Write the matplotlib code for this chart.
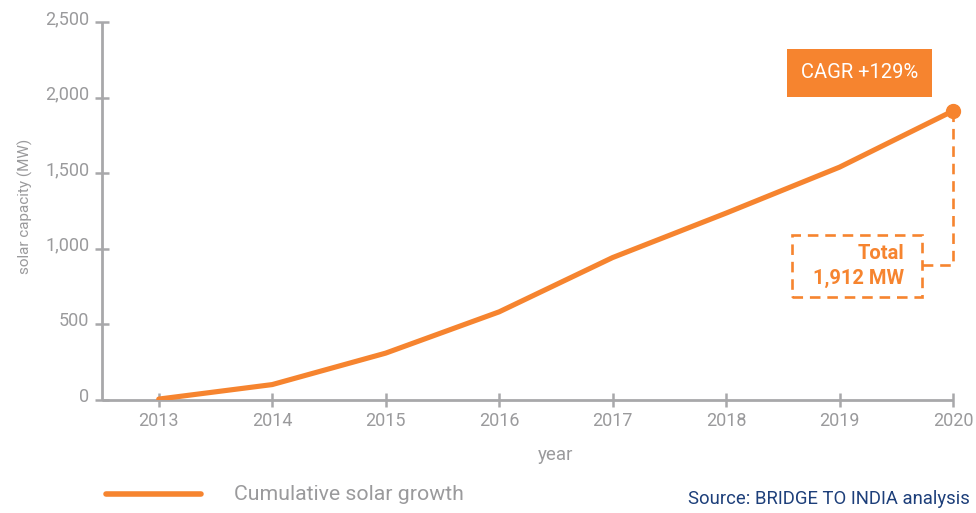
import matplotlib
matplotlib.use("Agg")
import matplotlib.pyplot as plt
import matplotlib.transforms as mtransforms
from matplotlib.patches import Rectangle

plt.rcParams['font.family'] = ['Roboto', 'DejaVu Sans']

years = [2013, 2014, 2015, 2016, 2017, 2018, 2019, 2020]
capacity_mw = [6, 102, 310, 583, 942, 1236, 1540, 1912]
y_ticks = [0, 500, 1000, 1500, 2000, 2500]
y_tick_labels = ['0', '500', '1,000', '1,500', '2,000', '2,500']
series_label = 'Cumulative solar growth'
cagr_label = 'CAGR +129%'
total_label = 'Total\n1,912 MW'
source_label = 'Source: BRIDGE TO INDIA analysis'

orange = '#f6842f'
grey = '#a8a8aa'
text_grey = '#9a9a9c'
navy = '#1d3f7a'

fig = plt.figure(figsize=(9.76, 5.13), dpi=100)
ax = fig.add_axes([102 / 976, 1 - 400 / 513, (953 - 102) / 976, (400 - 22) / 513])

ax.plot(years, capacity_mw, color=orange, lw=3.7, solid_capstyle='round', zorder=3)
ax.plot(years[-1], capacity_mw[-1], 'o', color=orange, ms=10, zorder=4, clip_on=False)

ax.set_xlim(2012.5, 2020)
ax.set_ylim(0, 2500)
ax.set_xticks(years)
ax.set_yticks(y_ticks)
ax.set_yticklabels(y_tick_labels)

for side in ('top', 'right'):
    ax.spines[side].set_visible(False)
for side in ('left', 'bottom'):
    ax.spines[side].set_color(grey)
    ax.spines[side].set_linewidth(2.0)
    ax.spines[side].set_capstyle('butt')
ax.tick_params(direction='inout', length=9.5, width=1.8, color=grey,
               labelcolor=text_grey, labelsize=13)
ax.tick_params(axis='x', pad=4)
ax.tick_params(axis='y', pad=4.5)

# nudge y tick labels up a little
shift = mtransforms.ScaledTranslation(0, 5 / 100, fig.dpi_scale_trans)
for lbl in ax.get_yticklabels():
    lbl.set_transform(lbl.get_transform() + shift)

fig.text(25 / 976, 1 - 206 / 513, 'solar capacity (MW)', rotation=90,
         ha='center', va='center', color=text_grey, fontsize=11)
fig.text(556 / 976, 1 - 455 / 513, 'year', ha='center', va='center',
         color=text_grey, fontsize=13.5)

# dashed callout for the total
conn_y = 893
ax.plot([years[-1], years[-1], 2019.73], [capacity_mw[-1], conn_y, conn_y],
        color=orange, lw=1.9, ls=(0, (4, 2.6)), clip_on=False, zorder=2)
ax.add_patch(Rectangle((2018.58, 682), 2019.73 - 2018.58, 1092 - 682, fill=False,
                       edgecolor=orange, lw=1.9, ls=(0, (4, 2.6)), clip_on=False))
ax.text(2019.57, 887, total_label, ha='right', va='center', color=orange,
        fontsize=14.5, fontweight='bold', linespacing=1.35)

fig.text(859.5 / 976, 1 - 73 / 513, cagr_label, ha='center', va='center',
         color='white', fontsize=14.5,
         bbox=dict(boxstyle='square,pad=0.7', fc=orange, ec='none'))

# legend
fig.add_artist(plt.Line2D([106 / 976, 201 / 976], [1 - 494 / 513] * 2,
                          color=orange, lw=4, solid_capstyle='round'))
fig.text(234 / 976, 1 - 494 / 513, series_label, ha='left', va='center',
         color=text_grey, fontsize=15.3)
fig.text(970 / 976, 1 - 499 / 513, source_label, ha='right', va='center',
         color=navy, fontsize=13.3)

fig.savefig('out.png', dpi=100)
